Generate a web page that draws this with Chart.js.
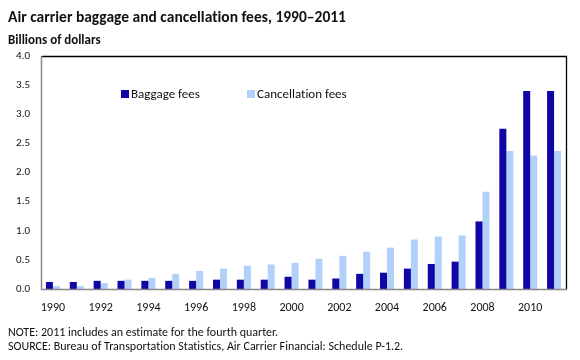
<!DOCTYPE html>
<html>
<head>
<meta charset="utf-8">
<script src="https://cdn.jsdelivr.net/npm/chart.js@4.4.0/dist/chart.umd.min.js"></script>
<style>
  html, body { margin: 0; padding: 0; background: #fff; }
  #wrap { position: relative; width: 580px; height: 360px; overflow: hidden; font-family: Carlito, Calibri, Lato, sans-serif; color: #111; font-variant-ligatures: none; font-feature-settings: "liga" 0; }
  #c { position: absolute; left: 0; top: 0; }
  .t { position: absolute; white-space: nowrap; }
  #title { left: 8px; top: 7px; font-size: 15.5px; font-weight: bold; }
  #ylab { left: 8px; top: 32px; font-size: 13px; font-weight: bold; }
  #note { left: 8px; top: 325px; font-size: 12px; }
  #src { left: 8px; top: 339px; font-size: 12px; }
  .lg { position: absolute; top: 86px; font-size: 13px; white-space: nowrap; }
  .sw { display: inline-block; width: 8px; height: 8px; margin-right: 2px; vertical-align: 0px; }
</style>
</head>
<body>
<div id="wrap">
  <canvas id="c" width="580" height="360"></canvas>
  <div class="t" id="title">Air carrier baggage and cancellation fees, 1990–2011</div>
  <div class="t" id="ylab">Billions of dollars</div>
  <div class="lg" style="left:121px"><span class="sw" style="background:#1006A5"></span>Baggage fees</div>
  <div class="lg" style="left:247px"><span class="sw" style="background:#B2D1FA"></span>Cancellation fees</div>
  <div class="t" id="note">NOTE: 2011 includes an estimate for the fourth quarter.</div>
  <div class="t" id="src">SOURCE: Bureau of Transportation Statistics, Air Carrier Financial: Schedule P-1.2.</div>
</div>
<script>
const years = ["1990","1991","1992","1993","1994","1995","1996","1997","1998","1999","2000",
               "2001","2002","2003","2004","2005","2006","2007","2008","2009","2010","2011"];
const baggageFees = [0.12,0.12,0.14,0.14,0.14,0.14,0.14,0.16,0.16,0.16,0.21,
                     0.16,0.18,0.26,0.28,0.35,0.43,0.47,1.16,2.75,3.40,3.40];
const cancellationFees = [0.05,0.05,0.10,0.16,0.19,0.26,0.31,0.35,0.40,0.42,0.45,
                          0.52,0.57,0.64,0.71,0.85,0.90,0.92,1.67,2.37,2.29,2.37];
const yTicks = [0,0.5,1,1.5,2,2.5,3,3.5,4];

const FONT = "Carlito, Calibri, Lato, sans-serif";

const frame = {
  id: 'frame',
  afterDraw(chart) {
    const a = chart.chartArea, ctx = chart.ctx;
    ctx.save();
    ctx.lineWidth = 1.3;
    ctx.strokeStyle = '#000';
    ctx.beginPath();
    ctx.moveTo(Math.round(a.left) + 1, Math.round(a.top) + 0.5);
    ctx.lineTo(Math.round(a.right) + 0.5, Math.round(a.top) + 0.5);
    ctx.lineTo(Math.round(a.right) + 0.5, Math.round(a.bottom));
    ctx.stroke();
    ctx.strokeStyle = '#888';
    ctx.lineWidth = 1.5;
    ctx.beginPath();
    ctx.moveTo(Math.round(a.left) + 0.5, Math.round(a.top));
    ctx.lineTo(Math.round(a.left) + 0.5, Math.round(a.bottom) + 0.5);
    ctx.lineTo(Math.round(a.right) + 1, Math.round(a.bottom) + 0.5);
    ctx.stroke();
    ctx.restore();
  }
};

new Chart(document.getElementById('c'), {
  type: 'bar',
  data: {
    labels: years,
    datasets: [
      { label: 'Baggage fees', data: baggageFees, backgroundColor: '#1006A5', borderWidth: 0 },
      { label: 'Cancellation fees', data: cancellationFees, backgroundColor: '#B2D1FA', borderWidth: 0 }
    ]
  },
  options: {
    responsive: false,
    animation: false,
    devicePixelRatio: 1,
    layout: { padding: { top: 56, right: 14, bottom: 41, left: 0 } },
    plugins: { legend: { display: false }, tooltip: { enabled: false } },
    datasets: { bar: { barPercentage: 1, categoryPercentage: 0.587 } },
    scales: {
      x: {
        grid: { display: false, drawTicks: false },
        border: { display: false },
        afterFit(s) { s.height = 30; },
        ticks: {
          autoSkip: false, maxRotation: 0, padding: 12,
          color: '#111', font: { family: FONT, size: 12 },
          callback(v, i) { return i % 2 === 0 ? years[i] : ''; }
        }
      },
      y: {
        min: 0, max: 4,
        afterFit(s) { s.width = 41; },
        afterBuildTicks(s) { s.ticks = yTicks.map(v => ({ value: v })); },
        grid: { display: false, drawTicks: false },
        border: { display: false },
        ticks: {
          padding: 11, color: '#111', font: { family: FONT, size: 11 },
          callback(v) { return v.toFixed(1); }
        }
      }
    }
  },
  plugins: [frame]
});
</script>
</body>
</html>
